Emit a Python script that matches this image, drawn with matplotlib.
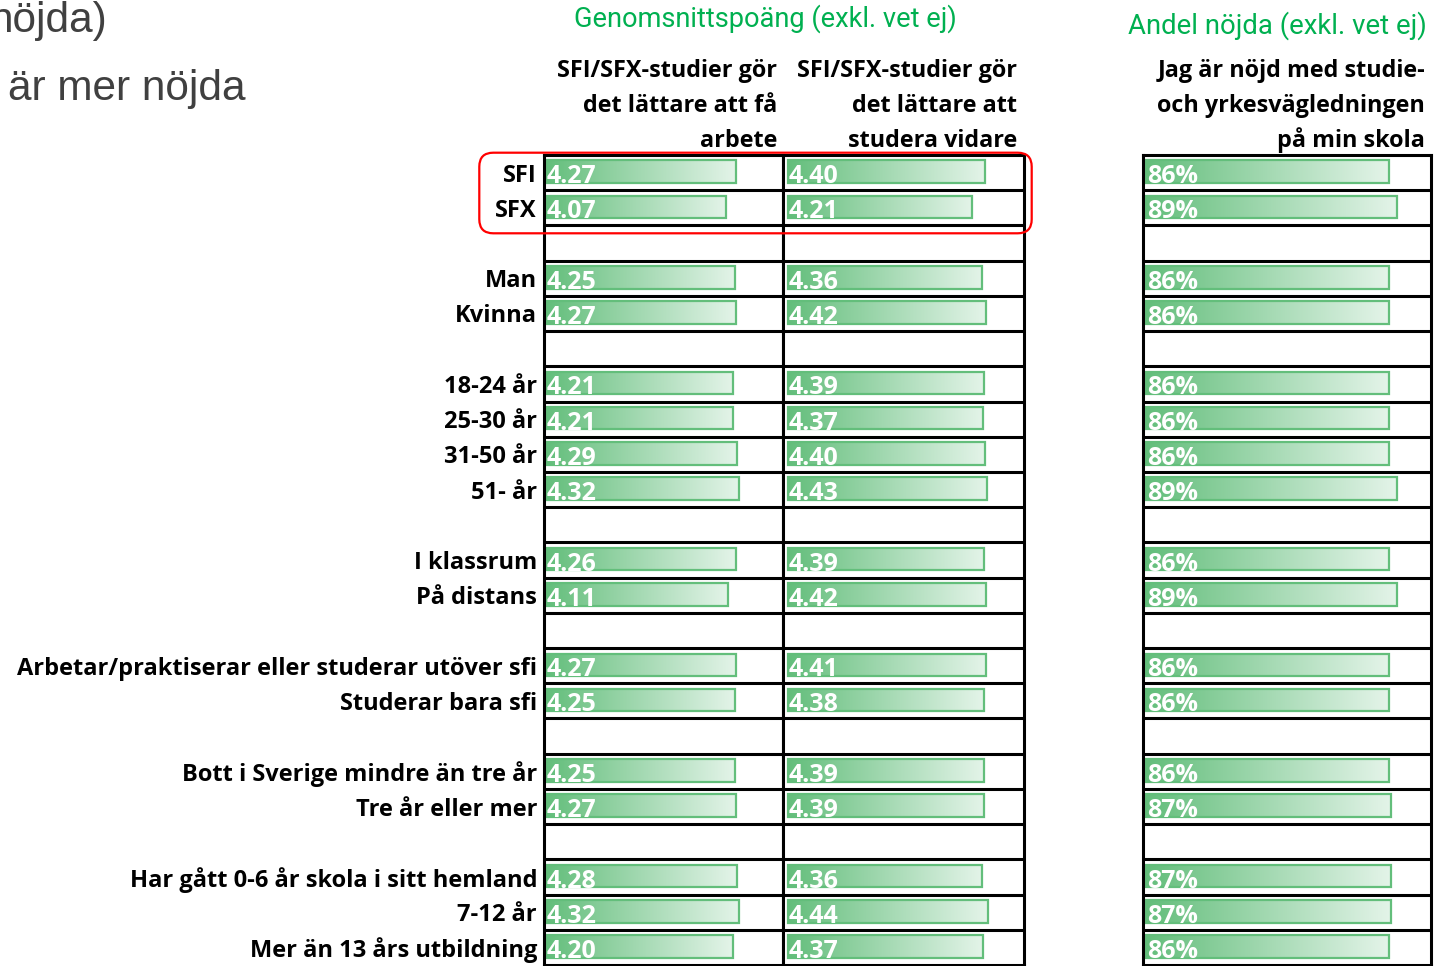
import numpy as np
import matplotlib
matplotlib.use("Agg")
import matplotlib.pyplot as plt
from matplotlib.colors import LinearSegmentedColormap
from matplotlib.patches import Rectangle, FancyBboxPatch

# ---------------- data ----------------
row_labels = ["SFI", "SFX", "",
              "Man", "Kvinna", "",
              "18-24 år", "25-30 år", "31-50 år", "51- år", "",
              "I klassrum", "På distans", "",
              "Arbetar/praktiserar eller studerar utöver sfi", "Studerar bara sfi", "",
              "Bott i Sverige mindre än tre år", "Tre år eller mer", "",
              "Har gått 0-6 år skola i sitt hemland", "7-12 år", "Mer än 13 års utbildning"]

arbete = [4.27, 4.07, None,
          4.25, 4.27, None,
          4.21, 4.21, 4.29, 4.32, None,
          4.26, 4.11, None,
          4.27, 4.25, None,
          4.25, 4.27, None,
          4.28, 4.32, 4.20]

vidare = [4.40, 4.21, None,
          4.36, 4.42, None,
          4.39, 4.37, 4.40, 4.43, None,
          4.39, 4.42, None,
          4.41, 4.38, None,
          4.39, 4.39, None,
          4.36, 4.44, 4.37]

andel = [86, 89, None,
         86, 86, None,
         86, 86, 86, 89, None,
         86, 89, None,
         86, 86, None,
         86, 87, None,
         87, 87, 86]

header_scores = "Genomsnittspoäng (exkl. vet ej)"
header_share = "Andel nöjda (exkl. vet ej)"
col_titles = [["SFI/SFX-studier gör", "det lättare att få", "arbete"],
              ["SFI/SFX-studier gör", "det lättare att", "studera vidare"],
              ["Jag är nöjd med studie-", "och yrkesvägledningen", "på min skola"]]
title_fragments = ["nöjda)", "är mer nöjda"]

# ---------------- layout / style ----------------
BOLD_FONT = ['Open Sans', 'DejaVu Sans']
plt.rcParams['font.family'] = BOLD_FONT
W, H = 1434, 966
TOP, BOT = 155, 965
n = len(row_labels)

fig = plt.figure(figsize=(W / 100, H / 100), dpi=100)
fig.patch.set_facecolor('white')

cmap = LinearSegmentedColormap.from_list('bar', ['#63BE7B', '#E4F4E9'])
grad = np.linspace(0, 1, 256).reshape(1, -1)
BAR_GREEN = '#63BE7B'
LINE_W = 2.2

# (values, left px, right px, xlim, bar baseline, label format)
col_specs = [
    (arbete, 544, 783, (0.481, 5.186), 0.52, "{:.2f}"),
    (vidare, 783, 1024, (1.385, 4.982), 1.455, "{:.2f}"),
    (andel, 1143, 1431, (-1.064, 101.06), 0.0, "{:.0f}%"),
]

axes = []
for vals, x0, x1, xlim, base, fmt in col_specs:
    ax = fig.add_axes([x0 / W, 1 - BOT / H, (x1 - x0) / W, (BOT - TOP) / H], zorder=2)
    ax.set_facecolor('white')
    for i, v in enumerate(vals):
        if v is None:
            continue
        ytop, ybot = i + 0.156, i + 0.794
        ax.imshow(grad, extent=(base, v, ybot, ytop), aspect='auto', cmap=cmap,
                  interpolation='bilinear', zorder=2)
        ax.add_patch(Rectangle((base, ytop), v - base, ybot - ytop, fill=False,
                               ec=BAR_GREEN, lw=1.6, zorder=3))
        ax.annotate(fmt.format(v), xy=(base, i + 0.80), xytext=(1, 0),
                    textcoords='offset pixels', color='white', fontweight='bold',
                    fontsize=18, ha='left', va='baseline', zorder=4)
    for k in range(1, n):
        ax.axhline(k, color='black', lw=LINE_W, zorder=5)
    ax.set_xlim(*xlim)
    ax.set_ylim(n, 0)
    ax.set_xticks([])
    ax.set_yticks([])
    for sp in ax.spines.values():
        sp.set_color('black')
        sp.set_linewidth(LINE_W)
        sp.set_zorder(6)
    axes.append(ax)

ax1 = axes[0]
ax1.set_yticks(np.arange(n) + 0.5)
ax1.set_yticklabels(row_labels, fontweight='bold', fontsize=17, color='black')
ax1.tick_params(axis='y', length=0, pad=5)

# ---------------- overlay for headings ----------------
ov = fig.add_axes([0, 0, 1, 1], zorder=10)
ov.set_xlim(0, W)
ov.set_ylim(H, 0)
ov.axis('off')
ov.patch.set_alpha(0)

gray_font = ['Liberation Sans', 'DejaVu Sans']
ov.text(107, 32, title_fragments[0], ha='right', va='baseline', fontsize=30.5,
        color='#404040', family=gray_font)
ov.text(8, 100, title_fragments[1], ha='left', va='baseline', fontsize=30.5,
        color='#404040', family=gray_font)

green_font = ['Roboto', 'DejaVu Sans']
ov.text(765, 27, header_scores, ha='center', va='baseline', fontsize=19.6,
        color='#00B050', family=green_font)
ov.text(1427, 34, header_share, ha='right', va='baseline', fontsize=19.8,
        color='#00B050', family=green_font)

title_right = [777, 1017, 1425]
baselines = [77, 112, 147]
for xr, lines in zip(title_right, col_titles):
    for yb, line in zip(baselines, lines):
        ov.text(xr, yb, line, ha='right', va='baseline', fontsize=16.8,
                fontweight='bold', color='black')

ov.add_patch(FancyBboxPatch((479.3, 152.7), 1031.7 - 479.3, 233.3 - 152.7,
                            boxstyle='round,pad=0,rounding_size=14',
                            ec='#FF0000', fc='none', lw=1.6))

fig.savefig('out.png', dpi=100, facecolor='white')
